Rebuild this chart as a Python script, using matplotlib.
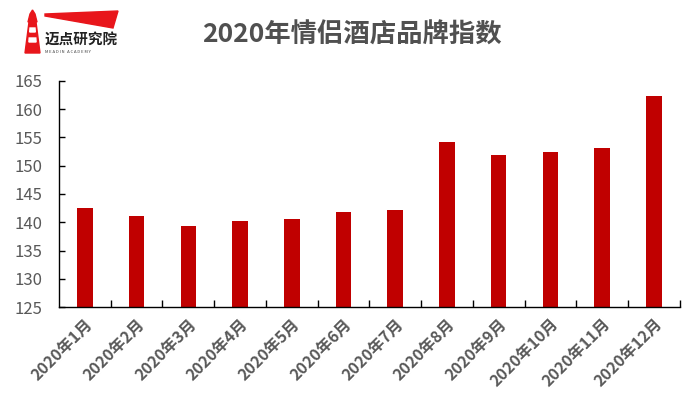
import matplotlib.pyplot as plt
from matplotlib.patches import Polygon

plt.rcParams['font.family'] = ['Noto Sans CJK SC', 'DejaVu Sans']

months = ['2020年%d月' % m for m in range(1, 13)]
index_values = [142.6, 141.1, 139.4, 140.2, 140.5, 141.8, 142.1, 154.2, 151.8, 152.4, 153.1, 162.3]
y_ticks = [125, 130, 135, 140, 145, 150, 155, 160, 165]

fig = plt.figure(figsize=(7, 4.01), dpi=100)
ax = fig.add_axes([0.0843, 0.2337, 0.8867, 0.5651])

x = list(range(len(months)))
ax.bar(x, index_values, width=0.3, color='#C00000', zorder=2)

ax.set_ylim(125, 165)
ax.set_yticks(y_ticks)
ax.set_xlim(-0.5, len(months) - 0.5)
ax.set_xticks(x)
ax.set_xticklabels(months, rotation=45, ha='right', rotation_mode='anchor',
                   fontsize=11.5, color='#595959', fontweight='bold')
ax.tick_params(axis='x', length=0, pad=6)
ax.tick_params(axis='y', labelsize=12, labelcolor='#595959', length=4, width=1,
               direction='in', pad=12)
# boundary ticks between categories
ax.set_xticks([i + 0.5 for i in x], minor=True)
ax.tick_params(axis='x', which='minor', length=5, width=1, direction='in')

for s in ['top', 'right']:
    ax.spines[s].set_visible(False)
for s in ['left', 'bottom']:
    ax.spines[s].set_color('#000000')
    ax.spines[s].set_linewidth(1)

fig.text(0.503, 0.913, '2020年情侣酒店品牌指数', ha='center', va='center',
         fontsize=19, fontweight='bold', color='#505050')

# logo
W, H = 700, 401
def px(pts):
    return [(a / W, 1 - b / H) for a, b in pts]

fig.patches.append(Polygon(px([(45, 14), (118, 11), (113, 28), (45, 16)]),
                           closed=True, color='#E8161B', transform=fig.transFigure))
fig.patches.append(Polygon(px([(25, 53), (40, 53), (36, 22), (29, 22)]),
                           closed=True, color='#E8161B', transform=fig.transFigure))
fig.patches.append(Polygon(px([(28, 22), (37, 22), (35, 14), (32.5, 10), (30, 14)]),
                           closed=True, color='#E8161B', transform=fig.transFigure))
fig.patches.append(Polygon(px([(30, 28), (35, 28), (35.3, 32), (29.7, 32)]),
                           closed=True, color='white', transform=fig.transFigure))
fig.patches.append(Polygon(px([(29.2, 38), (35.8, 38), (36.1, 42), (28.9, 42)]),
                           closed=True, color='white', transform=fig.transFigure))
fig.text(45 / W, 1 - 40 / H, '迈点研究院', ha='left', va='center',
         fontsize=10.5, fontweight='bold', color='#222222')
fig.text(45 / W, 1 - 52 / H, 'M E A D I N   A C A D E M Y', ha='left', va='center',
         fontsize=3, color='#444444')

fig.savefig('out.png', dpi=100)
